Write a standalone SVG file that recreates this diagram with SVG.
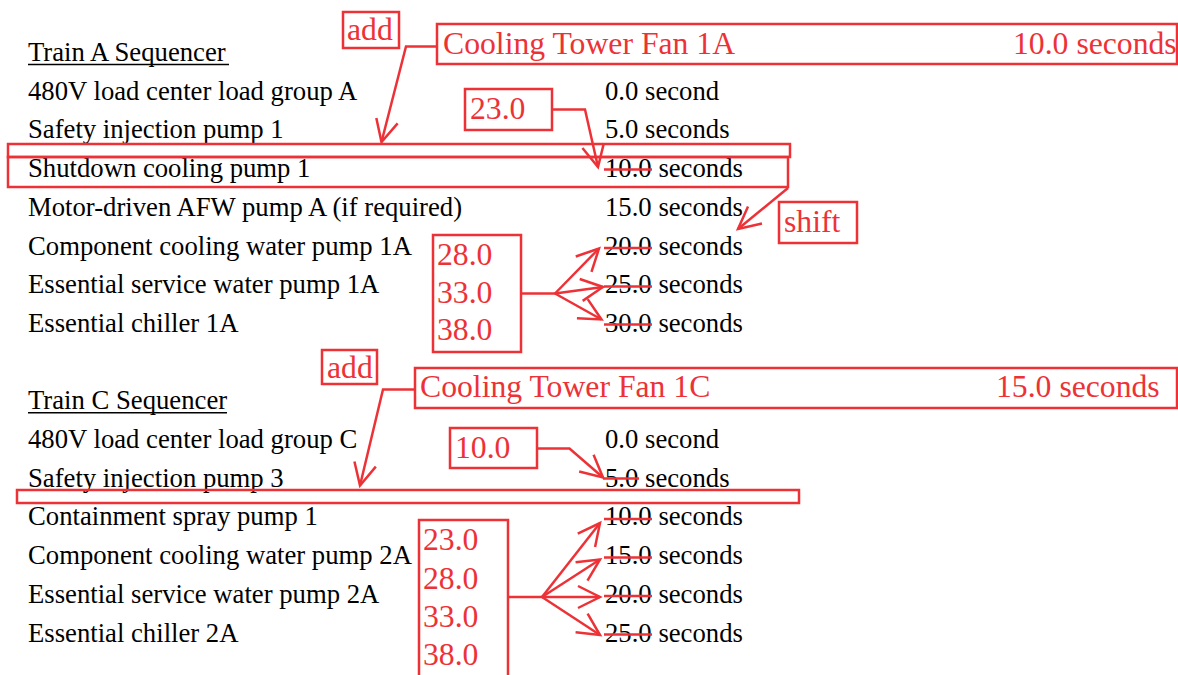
<svg xmlns="http://www.w3.org/2000/svg" width="1178" height="675" viewBox="0 0 1178 675">
<style>
.t{font-family:"Liberation Serif","Times New Roman",serif;font-size:26.7px;fill:#000}
.r{font-family:"Liberation Serif","Times New Roman",serif;font-size:31.7px;fill:#ED3237}
.b{fill:none;stroke:#ED3237;stroke-width:2.5}
.s{stroke:#ED3237;stroke-width:2.5}
.c{fill:none;stroke:#ED3237;stroke-width:2.5;marker-end:url(#ah)}
.u{stroke:#000;stroke-width:1.5}
</style>
<defs>
<marker id="ah" markerUnits="userSpaceOnUse" orient="auto" markerWidth="30" markerHeight="30" viewBox="-25 -15 30 30" refX="0" refY="0" overflow="visible">
<path d="M-22,-11 L0,0 L-22,11" fill="none" stroke="#ED3237" stroke-width="2.5"/>
</marker>
</defs>
<rect width="1178" height="675" fill="#fff"/>

<g id="train-a">
<text class="t" x="28" y="61">Train A Sequencer</text>
<line class="u" x1="28" y1="64.5" x2="229" y2="64.5"/>
<text class="t" x="28" y="99.7">480V load center load group A</text>
<text class="t" x="28" y="138.4">Safety injection pump 1</text>
<text class="t" x="28" y="177.1">Shutdown cooling pump 1</text>
<text class="t" x="28" y="215.8">Motor-driven AFW pump A (if required)</text>
<text class="t" x="28" y="254.5">Component cooling water pump 1A</text>
<text class="t" x="28" y="293.2">Essential service water pump 1A</text>
<text class="t" x="28" y="331.9">Essential chiller 1A</text>
<text class="t" x="605" y="99.7">0.0 second</text>
<text class="t" x="605" y="138.4">5.0 seconds</text>
<text class="t" x="605" y="177.1">10.0 seconds</text>
<text class="t" x="605" y="215.8">15.0 seconds</text>
<text class="t" x="605" y="254.5">20.0 seconds</text>
<text class="t" x="605" y="293.2">25.0 seconds</text>
<text class="t" x="605" y="331.9">30.0 seconds</text>
<line class="s" x1="604" y1="169.5" x2="652" y2="169.5"/>
<line class="s" x1="604" y1="248" x2="652" y2="248"/>
<line class="s" x1="604" y1="286.5" x2="652" y2="286.5"/>
<line class="s" x1="604" y1="324.5" x2="652" y2="324.5"/>
</g>

<g id="train-c">
<text class="t" x="28" y="409.3">Train C Sequencer</text>
<line class="u" x1="28" y1="412.8" x2="227" y2="412.8"/>
<text class="t" x="28" y="448">480V load center load group C</text>
<text class="t" x="28" y="486.7">Safety injection pump 3</text>
<text class="t" x="28" y="525.4">Containment spray pump 1</text>
<text class="t" x="28" y="564.1">Component cooling water pump 2A</text>
<text class="t" x="28" y="602.8">Essential service water pump 2A</text>
<text class="t" x="28" y="641.5">Essential chiller 2A</text>
<text class="t" x="605" y="448">0.0 second</text>
<text class="t" x="605" y="486.7">5.0 seconds</text>
<text class="t" x="605" y="525.4">10.0 seconds</text>
<text class="t" x="605" y="564.1">15.0 seconds</text>
<text class="t" x="605" y="602.8">20.0 seconds</text>
<text class="t" x="605" y="641.5">25.0 seconds</text>
<line class="s" x1="603" y1="478.5" x2="639" y2="478.5"/>
<line class="s" x1="604" y1="519" x2="652" y2="519"/>
<line class="s" x1="604" y1="557.5" x2="652" y2="557.5"/>
<line class="s" x1="604" y1="596" x2="652" y2="596"/>
<line class="s" x1="604" y1="634.5" x2="652" y2="634.5"/>
</g>

<g id="add-a">
<rect class="b" x="343" y="12" width="56" height="36"/>
<text class="r" x="347" y="40">add</text>
</g>
<g id="fan-1a">
<rect class="b" x="437" y="24" width="740" height="40"/>
<text class="r" x="443" y="54">Cooling Tower Fan 1A</text>
<text class="r" x="1013" y="54">10.0 seconds</text>
</g>
<g id="insert-a">
<rect class="b" x="8" y="144" width="782" height="13"/>
</g>
<g id="shutdown-box">
<rect class="b" x="8" y="157" width="780" height="30"/>
</g>
<g id="shift">
<rect class="b" x="779" y="202" width="78" height="41"/>
<text class="r" x="784" y="232">shift</text>
</g>
<g id="new-23a">
<rect class="b" x="465" y="89" width="87" height="41"/>
<text class="r" x="470" y="119">23.0</text>
</g>
<g id="new-times-a">
<rect class="b" x="433" y="235" width="88" height="117"/>
<text class="r" x="437" y="265">28.0</text>
<text class="r" x="437" y="302.5">33.0</text>
<text class="r" x="437" y="340">38.0</text>
</g>

<g id="add-c">
<rect class="b" x="322" y="350" width="55" height="34"/>
<text class="r" x="327" y="378">add</text>
</g>
<g id="fan-1c">
<rect class="b" x="415" y="368" width="762" height="40"/>
<text class="r" x="420" y="397">Cooling Tower Fan 1C</text>
<text class="r" x="996" y="397">15.0 seconds</text>
</g>
<g id="insert-c">
<rect class="b" x="17" y="490" width="782" height="13"/>
</g>
<g id="new-10c">
<rect class="b" x="450" y="428" width="87" height="40"/>
<text class="r" x="455" y="458">10.0</text>
</g>
<g id="new-times-c">
<path class="b" d="M419,676 V520 H508 V676"/>
<text class="r" x="423" y="549.5">23.0</text>
<text class="r" x="423" y="588.5">28.0</text>
<text class="r" x="423" y="627">33.0</text>
<text class="r" x="423" y="665">38.0</text>
</g>

<g id="connectors">
<path class="c" d="M437,46.5 H406 L381.5,142"/>
<path class="c" d="M552,109.5 H585 L598,167"/>
<path class="c" d="M788,188 L738,229"/>
<line class="s" x1="521" y1="293.5" x2="555" y2="293.5"/>
<path class="c" d="M555,293.5 L599,248.5"/>
<path class="c" d="M555,293.5 L603,287"/>
<path class="c" d="M555,293.5 L601.5,319.5"/>
<path class="c" d="M415,389.5 H383 L360,485.5"/>
<path class="c" d="M537,448.5 H569.5 L603,477.5"/>
<line class="s" x1="508" y1="597" x2="542" y2="597"/>
<path class="c" d="M542,597 L600,523"/>
<path class="c" d="M542,597 L600,559.5"/>
<path class="c" d="M542,597 L600,597"/>
<path class="c" d="M542,597 L600,635"/>
</g>
</svg>
